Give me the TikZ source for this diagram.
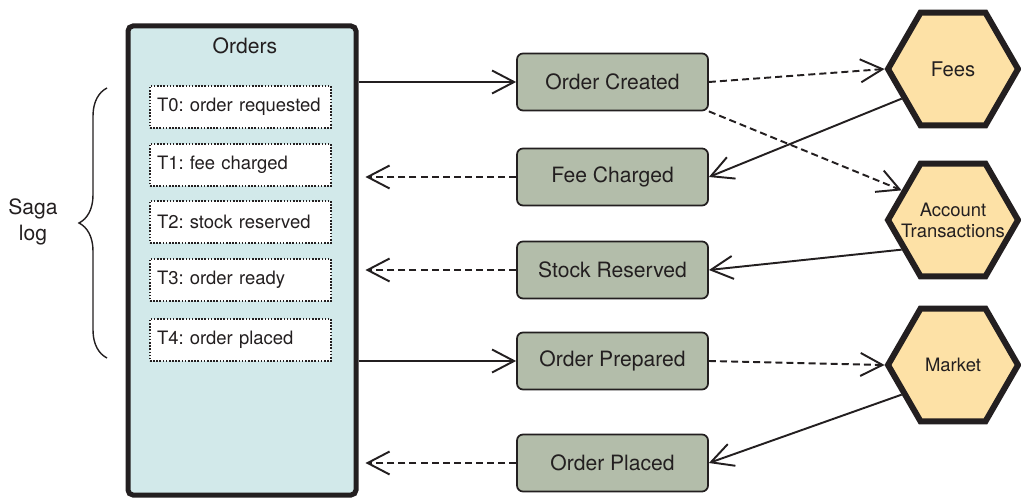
\documentclass[tikz,border=0pt]{standalone}
\usepackage{fontspec}
\setmainfont{TeX Gyre Heros}
\usepackage{xcolor}
\usetikzlibrary{arrows.meta,shapes.geometric,decorations.pathreplacing}
\definecolor{logblue}{HTML}{D2E9EA}
\definecolor{eventgreen}{HTML}{B3BDAA}
\definecolor{servicetan}{HTML}{FDE1A6}
\definecolor{inkgray}{HTML}{231F20}

\begin{document}
\begin{tikzpicture}[
  every node/.style={text=inkgray},
  ordersbox/.style={draw=inkgray, line width=0.1cm, fill=logblue, rounded corners=0.1cm, minimum width=4.56cm, minimum height=9.38cm},
  logentry/.style={draw=inkgray, fill=white, line width=0.9pt, dash pattern=on 0.9pt off 0.9pt, minimum height=0.84cm, text width=3.34cm, inner sep=0.14cm, align=left, font=\fontsize{10.5}{12}\selectfont\frenchspacing},
  event/.style={draw=inkgray, line width=1pt, fill=eventgreen, rounded corners=0.12cm, minimum width=3.82cm, minimum height=1.14cm, font=\fontsize{12}{14}\selectfont},
  service/.style={regular polygon, regular polygon sides=6, draw=inkgray, line width=0.12cm, fill=servicetan, minimum size=2.6cm, inner sep=0pt},
  servicetext/.style={label={[align=center, font=\fontsize{10.5}{12}\selectfont]center:#1}},
  msg/.style={draw=inkgray, line width=1.1pt, -{Straight Barb[length=0.44cm,width=0.46cm]}},
  reply/.style={msg, dash pattern=on 4pt off 2.3pt},
]
\useasboundingbox (0,0) rectangle (20.42,-10);

% saga log
\node[ordersbox] (orders) at (4.84,-5.21) {};
\node[font=\fontsize{12}{14}\selectfont] (orderstitle) at (4.9,-0.92) {Orders};
\foreach \entry/\y [count=\i from 0] in {order requested/-2.14, fee charged/-3.30, stock reserved/-4.44, order ready/-5.60, order placed/-6.80}{
    \node[logentry] (log\i) at (4.81,\y) {T\i: \entry};
}
\draw[line width=0.8pt, draw=inkgray, decorate, decoration={brace, amplitude=0.56cm}] (2.14,-7.16) -- (2.14,-1.76);
\node[align=center, font=\fontsize{12}{15}\selectfont] (sagalabel) at (0.66,-4.44) {Saga\\log};

% events
\node[event] (ordercreated) at (12.25,-1.64) {Order Created};
\node[event] (feecharged) at (12.25,-3.54) {Fee Charged};
\node[event] (stockreserved) at (12.25,-5.40) {Stock Reserved};
\node[event] (orderprepared) at (12.25,-7.22) {Order Prepared};
\node[event] (orderplaced) at (12.25,-9.26) {Order Placed};

% services
\node[service, label={[font=\fontsize{11.5}{13}\selectfont]center:Fees}] (fees) at (19.06,-1.38) {};
\node[service, servicetext={Account\\Transactions}] (accounts) at (19.06,-4.40) {};
\node[service, servicetext=Market] (market) at (19.06,-7.30) {};

\draw[msg] (orders.east |- ordercreated.west) -- (ordercreated.west);
\draw[reply] (ordercreated.east) -- (fees.west);
\draw[reply] (ordercreated.south east) -- (accounts.150);
\draw[msg] (fees.210) -- (feecharged.east);
\draw[reply] (feecharged.west) -- ([xshift=0.14cm]orders.east |- feecharged.west);
\draw[msg] (accounts.210) -- (stockreserved.east);
\draw[reply] (stockreserved.west) -- ([xshift=0.14cm]orders.east |- stockreserved.west);
\draw[msg] (orders.east |- orderprepared.west) -- (orderprepared.west);
\draw[reply] (orderprepared.east) -- (market.west);
\draw[msg] (market.210) -- (orderplaced.east);
\draw[reply] (orderplaced.west) -- ([xshift=0.14cm]orders.east |- orderplaced.west);

\end{tikzpicture}
\end{document}
